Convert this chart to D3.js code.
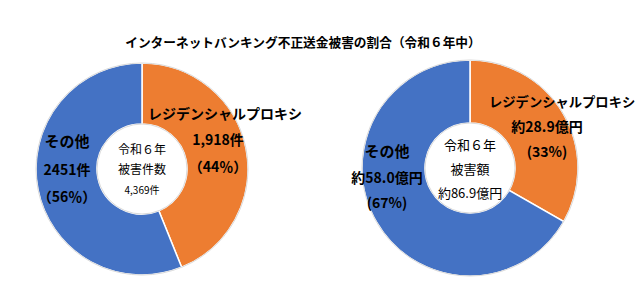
<!DOCTYPE html>
<html>
<head>
<meta charset="utf-8">
<script src="https://cdn.jsdelivr.net/npm/d3@7"></script>
<style>
  body { margin: 0; background: #fff; }
  text { font-family: "Noto Sans CJK JP", sans-serif; fill: #000; }
</style>
</head>
<body>
<div id="chart"></div>
<script>
// Data
var title = "インターネットバンキング不正送金被害の割合（令和６年中）";
var categories = ["レジデンシャルプロキシ", "その他"];
var countValues = [1918, 2451];      // 件数
var amountValues = [28.9, 58.0];     // 億円
var countLabels = [["1,918件", "（44％）"], ["2451件", "（56％）"]];
var amountLabels = [["約28.9億円", "(33%)"], ["約58.0億円", "(67%)"]];
var countCenter = ["令和６年", "被害件数", "4,369件"];
var amountCenter = ["令和６年", "被害額", "約86.9億円"];

var width = 642, height = 295;
var color = d3.scaleOrdinal().domain(categories).range(["#ED7D31", "#4472C4"]);

var svg = d3.select("#chart").append("svg")
    .attr("width", width)
    .attr("height", height);

svg.append("text")
    .attr("x", 303)
    .attr("y", 47)
    .attr("text-anchor", "middle")
    .style("font-size", "12.7px")
    .style("font-weight", "bold")
    .text(title);

var pie = d3.pie().sort(null).value(function(d) { return d; });

function drawDonut(cx, cy, r, r0, values) {
  var g = svg.append("g").attr("transform", "translate(" + cx + "," + cy + ")");
  var arc = d3.arc().innerRadius(r0).outerRadius(r);
  g.selectAll("path")
    .data(pie(values))
    .join("path")
      .attr("d", arc)
      .attr("fill", function(d, i) { return color(categories[i]); })
      .attr("stroke", "#fff")
      .attr("stroke-width", 1.5);
  g.append("circle").attr("r", r).attr("fill", "none").attr("stroke", "#d9d9d9").attr("stroke-width", 1);
  g.append("circle").attr("r", r0).attr("fill", "#fff").attr("stroke", "#d9d9d9").attr("stroke-width", 1);
  return g;
}

function lines(g, arr, x, y0, dy, size, anchor, weight) {
  arr.forEach(function(t, i) {
    g.append("text")
      .attr("x", x)
      .attr("y", y0 + i * dy)
      .attr("text-anchor", anchor)
      .style("font-size", size + "px")
      .style("font-weight", weight)
      .text(t);
  });
}

// Left donut: counts
var left = drawDonut(142, 169, 106, 45, countValues);
lines(left, countCenter.slice(0, 2), 0, -15, 20, 12, "middle", "normal");
left.append("text").attr("x", 0).attr("y", 25).attr("text-anchor", "middle")
    .style("font-size", "10px").text(countCenter[2]);
lines(left, [categories[0]], 6, -50, 0, 14, "start", "bold");
lines(left, countLabels[0], 76, -24, 27, 14, "middle", "bold");
lines(left, [categories[1]], -75, -22, 0, 15, "middle", "bold");
lines(left, countLabels[1], -75, 6, 27, 14, "middle", "bold");

// Right donut: amounts
var right = drawDonut(470, 168, 108, 45, amountValues);
lines(right, amountCenter, 0, -18, 24, 13, "middle", "normal");
lines(right, [categories[0]], 19, -61, 0, 13.3, "start", "bold");
lines(right, amountLabels[0], 77, -36, 25, 14, "middle", "bold");
lines(right, [categories[1]], -83, -11, 0, 15, "middle", "bold");
lines(right, amountLabels[1], -83, 15, 25, 14, "middle", "bold");
</script>
</body>
</html>
